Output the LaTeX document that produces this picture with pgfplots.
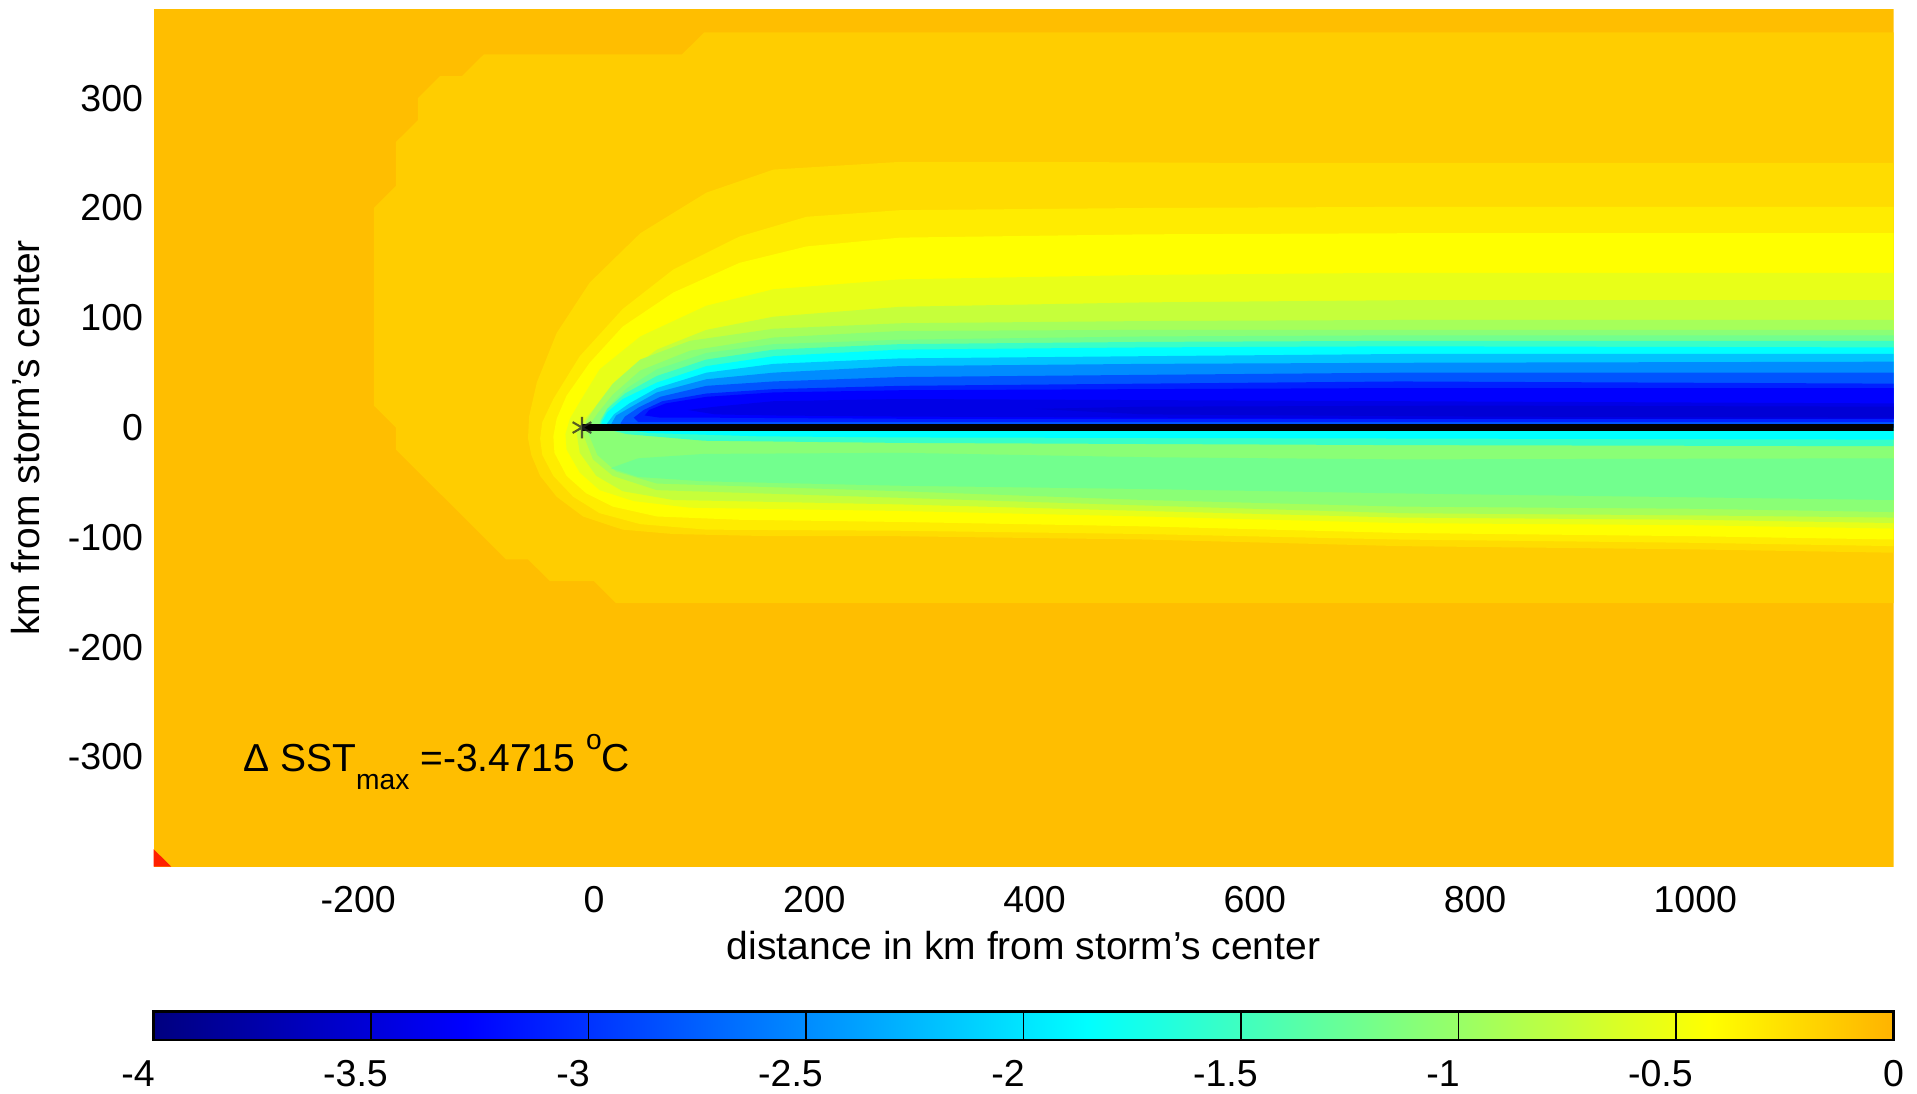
\documentclass[border=0pt]{standalone}
\usepackage{fontspec}
\setmainfont{Liberation Sans}
\usepackage{pgfplots}
\pgfplotsset{compat=1.18}
\definecolor{cBG}{HTML}{FFBE00}
\definecolor{cLa}{HTML}{FFCD00}
\definecolor{cLb}{HTML}{FFDC00}
\definecolor{cLc}{HTML}{FFEC00}
\definecolor{cLd}{HTML}{FFFF00}
\definecolor{cLe}{HTML}{E8FF18}
\definecolor{cLf}{HTML}{C6FF3A}
\definecolor{cLg}{HTML}{A6FF5A}
\definecolor{cLh}{HTML}{8AFF76}
\definecolor{cLi}{HTML}{72FF8E}
\definecolor{cCa}{HTML}{38FFC8}
\definecolor{cCb}{HTML}{00FFFF}
\definecolor{cBa}{HTML}{00C4FF}
\definecolor{cBb}{HTML}{008CFF}
\definecolor{cBc}{HTML}{0054FF}
\definecolor{cBd}{HTML}{0020FF}
\definecolor{cBe}{HTML}{0000FF}
\definecolor{cBf}{HTML}{0000E6}
\definecolor{cBg}{HTML}{0000D6}
\definecolor{cRed}{HTML}{FF2000}
\pgfplotsset{
  colormap={sstjet}{rgb(0pt)=(0,0,0.5); rgb(715pt)=(0,0,1); rgb(2145pt)=(0,1,1); rgb(3575pt)=(1,1,0); rgb(4000pt)=(1,0.70,0)},
}
\newcommand{\neglab}[1]{#1\hspace*{10.4pt}}
\begin{document}
\begin{tikzpicture}
\begin{axis}[
  name=main,
  scale only axis,
  width=579.97pt, height=285.8pt,
  xmin=-400, xmax=1180, ymin=-400, ymax=381,
  axis line style={draw=none},
  major tick length=0pt,
  tick style={draw=none},
  xtick={-200,0,200,400,600,800,1000},
  xticklabels={\neglab{-200},0,200,400,600,800,1000},
  ytick={-300,-200,-100,0,100,200,300},
  yticklabels={-300,-200,-100,0,100,200,300},
  tick label style={font=\fontsize{12.5}{15}\selectfont},
  xticklabel style={yshift=-2.9pt},
  xlabel={distance in km from storm’s center},
  ylabel={km from storm’s center},
  label style={font=\fontsize{13}{15}\selectfont},
  xlabel style={at={(axis description cs:0.5,-0.1088)}, anchor=base},
  ylabel style={at={(axis description cs:-0.0653,0.5)}, anchor=base},
]
% background
\addplot[draw=none, fill=cBG] coordinates {(-400,-400) (1180,-400) (1180,381) (-400,381)} --cycle;
% outer stepped region
\addplot[draw=none, fill=cLa] coordinates {(1180,360) (100,360) (80,340) (-100,340) (-120,320) (-140,320) (-160,300) (-160,280) (-180,260) (-180,220) (-200,200) (-200,20) (-180,0) (-180,-20) (-80,-120) (-60,-120) (-40,-140) (0,-140) (20,-160) (1180,-160)} --cycle;
% nested bands around the wake
\addplot[draw=none, fill=cLb] coordinates {(1180,241) (600,241) (400,242) (278,242) (163,235) (102,214) (42,177) (-4,132) (-34,86) (-52,41) (-59,10) (-60,-10) (-57,-25) (-49,-44) (-34,-63) (-10,-81) (26,-93) (72,-97) (163,-99) (278,-99) (500,-102) (732,-108) (1000,-111) (1180,-114)} --cycle;
\addplot[draw=none, fill=cLc] coordinates {(1180,201) (732,201) (500,200) (278,198) (193,192) (132,174) (72,144) (26,108) (-13,65) (-37,26) (-47,5) (-49,-10) (-47,-25) (-37,-44) (-19,-63) (5,-78) (42,-88) (102,-93) (278,-94) (500,-97) (732,-102) (1000,-105) (1180,-108)} --cycle;
\addplot[draw=none, fill=cLd] coordinates {(1180,177) (732,177) (500,176) (278,173) (193,165) (132,150) (72,123) (26,92) (-4,59) (-25,29) (-34,8) (-37,-8) (-36,-23) (-25,-44) (-7,-60) (17,-72) (57,-81) (132,-84) (278,-86) (500,-90) (732,-96) (1000,-99) (1180,-102)} --cycle;
\addplot[draw=none, fill=cLe] coordinates {(1180,141) (732,141) (500,139) (278,135) (163,126) (102,111) (42,83) (5,53) (-12,25) (-22,8) (-26,-6) (-25,-20) (-13,-41) (5,-57) (36,-67) (87,-73) (278,-76) (500,-81) (732,-87) (1000,-89) (1180,-92)} --cycle;
\addplot[draw=none, fill=cLf] coordinates {(1180,116) (732,116) (500,114) (278,110) (163,101) (102,89) (57,71) (26,47) (5,23) (-8,8) (-16,-4) (-13,-23) (2,-44) (26,-58) (72,-66) (278,-70) (500,-76) (732,-82) (1000,-84) (1180,-87)} --cycle;
\addplot[draw=none, fill=cLg] coordinates {(1180,98) (732,98) (500,97) (278,95) (163,90) (87,79) (42,62) (17,40) (2,20) (-7,6) (-10,-6) (-1,-29) (17,-44) (57,-57) (278,-64) (500,-71) (732,-78) (1000,-80) (1180,-82)} --cycle;
\addplot[draw=none, fill=cLh] coordinates {(1180,89) (732,89) (500,89) (278,88) (163,82) (87,70) (42,52) (17,30) (4,14) (-3,4) (-5,-6) (3,-25) (20,-40) (57,-51) (278,-58) (500,-66) (732,-72) (1000,-74) (1180,-77)} --cycle;
% lower green island
\addplot[draw=none, fill=cLi] coordinates {(15,-37) (40,-28) (100,-24) (278,-23) (500,-27) (732,-29) (1180,-28) (1180,-66) (732,-60) (500,-56) (278,-53) (100,-49) (40,-45)} --cycle;
% lower strips just below the track
\addplot[draw=none, fill=cCa] coordinates {(5,0) (30,-6) (100,-12) (278,-14) (732,-16) (1180,-17) (1180,0)} --cycle;
\addplot[draw=none, fill=cCb] coordinates {(15,0) (50,-5) (150,-8) (278,-9) (732,-10) (1180,-11) (1180,0)} --cycle;
% upper cold wake
\addplot[draw=none, fill=cLi] coordinates {(1180,84) (732,84) (500,83) (278,80) (163,76) (102,68) (57,53) (30,36) (14,20) (6,8) (4,0) (1180,0)} --cycle;
\addplot[draw=none, fill=cCa] coordinates {(1180,79) (732,79) (500,78) (278,76) (163,71) (102,62) (57,47) (28,31) (12,17) (6,6) (5,0) (1180,0)} --cycle;
\addplot[draw=none, fill=cCb] coordinates {(1180,73) (732,74) (500,73) (278,71) (163,65) (102,56) (57,41) (26,26) (12,14) (7,5) (6,0) (1180,0)} --cycle;
\addplot[draw=none, fill=cBa] coordinates {(1180,67) (732,67) (500,65) (278,63) (163,58) (102,50) (57,36) (32,22) (18,12) (12,4) (11,0) (1180,0)} --cycle;
\addplot[draw=none, fill=cBb] coordinates {(1180,60) (732,59) (500,58) (278,56) (163,50) (102,44) (57,32) (34,19) (20,11) (16,4) (15,0) (1180,0)} --cycle;
\addplot[draw=none, fill=cBc] coordinates {(1180,50) (732,50) (500,48) (278,46) (163,42) (102,38) (60,28) (40,18) (28,10) (24,4) (24,0) (1180,0)} --cycle;
\addplot[draw=none, fill=cBd] coordinates {(1180,40) (732,42) (500,40) (278,38) (163,35) (102,31) (62,24) (45,16) (36,9) (40,5) (1180,5)} --cycle;
\addplot[draw=none, fill=cBe] coordinates {(1180,36) (732,36) (500,35) (278,34) (163,32) (102,28) (65,22) (50,16) (46,11) (60,9) (102,9) (278,8) (732,8) (1180,8)} --cycle;
\addplot[draw=none, fill=cBf] coordinates {(1180,22) (732,24) (500,25) (278,26) (163,24) (110,19) (85,16) (110,12) (163,11) (278,10) (732,8) (1180,8)} --cycle;
\addplot[draw=none, fill=cBg] coordinates {(1180,19) (800,20) (500,19) (400,17) (500,12) (800,10) (1180,9)} --cycle;
% warm corner
\addplot[draw=none, fill=cRed] coordinates {(-400,-400) (-384,-400) (-400,-384)} --cycle;
% storm track and centre
\addplot[black, line width=2.57pt] coordinates {(-11,0) (1180,0)};
\addplot[only marks, mark=asterisk, mark size=3.6pt, black!85, opacity=0.75, mark options={line width=0.7pt}] coordinates {(-11,0)};
\node[anchor=base west, inner sep=0pt, font=\fontsize{13}{15}\selectfont] at (axis cs:-319,-313) {Δ SST\raisebox{-6.1pt}{\fontsize{9.4}{10}\selectfont max} =-3.4715 \raisebox{7.2pt}{\fontsize{9.4}{10}\selectfont o}C};
\end{axis}
% colour scale
\begin{axis}[
  at={(main.south west)}, anchor=north west, yshift=-48.33pt,
  scale only axis, width=579.97pt, height=9.43pt,
  xmin=-4, xmax=0, ymin=0, ymax=1,
  colormap name=sstjet,
  point meta min=-4, point meta max=0,
  ytick=\empty,
  xtick={-4,-3.5,-3,-2.5,-2,-1.5,-1,-0.5,0},
  xticklabels={\neglab{-4},\neglab{-3.5},\neglab{-3},\neglab{-2.5},\neglab{-2},\neglab{-1.5},\neglab{-1},\neglab{-0.5},0},
  major tick length=0pt,
  tick style={draw=none},
  xmajorgrids, grid style={black, line width=0.5pt},
  axis line style={black, line width=0.8pt},
  axis on top,
  tick label style={font=\fontsize{12.5}{15}\selectfont},
  xticklabel style={inner sep=0pt, yshift=-6.7pt},
]
\addplot[patch, patch type=rectangle, shader=interp, point meta=x] coordinates {(-4,0) (0,0) (0,1) (-4,1)};
\end{axis}
\path ([shift={(-51.2pt,-75.77pt)}]main.south west) rectangle ([shift={(7.83pt,3.1pt)}]main.north east);
\end{tikzpicture}
\end{document}
